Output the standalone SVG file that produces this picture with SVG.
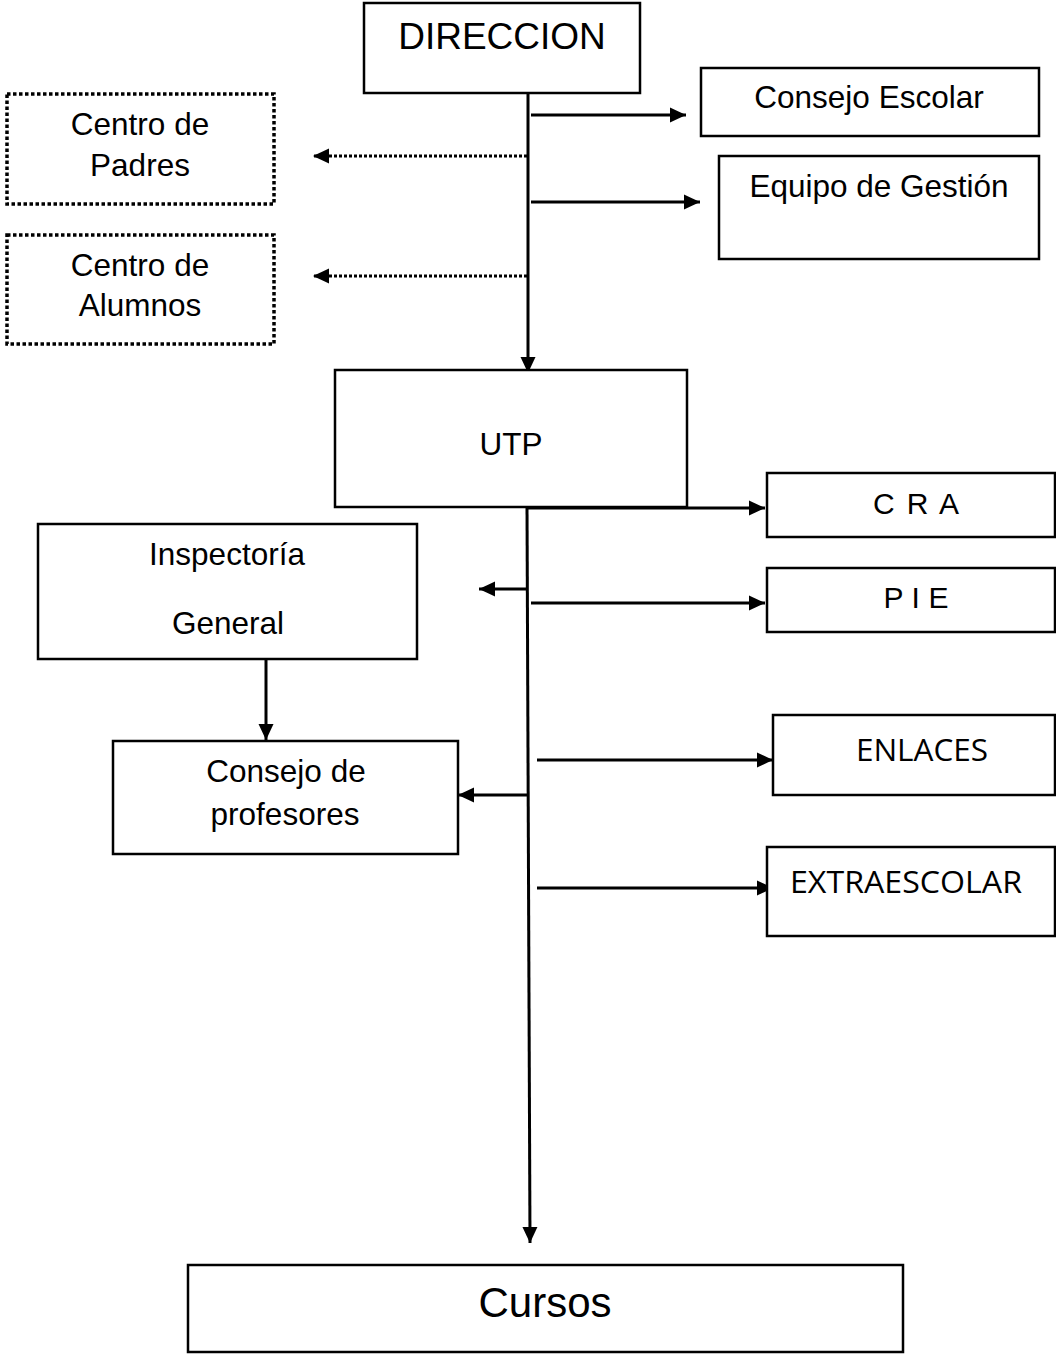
<svg xmlns="http://www.w3.org/2000/svg" width="1056" height="1355" viewBox="0 0 1056 1355">
<style>
.box{fill:#fff;stroke:#000;stroke-width:2.5}
.dbox{fill:#fff;stroke:#000;stroke-width:3.5;stroke-dasharray:3.5 2.5}
.t{font-family:"Liberation Sans",Arial,sans-serif;font-size:31.5px;fill:#000;text-anchor:middle}
.c{font-family:"Open Sans","Liberation Sans",sans-serif;font-size:31.5px;fill:#000}
.ln{fill:none;stroke:#000;stroke-width:3}
.dl{fill:none;stroke:#000;stroke-width:3;stroke-dasharray:3 2}
</style>
<defs>
<marker id="ah" markerUnits="userSpaceOnUse" markerWidth="18" markerHeight="18" refX="16" refY="9" orient="auto">
<path d="M0,1.5 L16,9 L0,16.5 z" fill="#000"/>
</marker>
</defs>
<g id="connectors">
<path class="ln" d="M528,93 L528,373" marker-end="url(#ah)"/>
<path class="ln" d="M531,115 L686,115" marker-end="url(#ah)"/>
<path class="ln" d="M531,202 L700,202" marker-end="url(#ah)"/>
<path class="dl" d="M527,156 L313,156" marker-end="url(#ah)"/>
<path class="dl" d="M527,276 L313,276" marker-end="url(#ah)"/>
<path class="ln" d="M527,507 L530,1243" marker-end="url(#ah)"/>
<path class="ln" d="M527,508 L765,508" marker-end="url(#ah)"/>
<path class="ln" d="M531,603 L765,603" marker-end="url(#ah)"/>
<path class="ln" d="M527,589 L479,589" marker-end="url(#ah)"/>
<path class="ln" d="M528,795 L458,795" marker-end="url(#ah)"/>
<path class="ln" d="M537,760 L773,760" marker-end="url(#ah)"/>
<path class="ln" d="M537,888 L773,888" marker-end="url(#ah)"/>
<path class="ln" d="M266,659 L266,740" marker-end="url(#ah)"/>
</g>
<g id="direccion">
<rect class="box" x="364" y="3" width="276" height="90"/>
<text class="t" x="502" y="49" style="font-size:37px">DIRECCION</text>
</g>
<g id="consejo-escolar">
<rect class="box" x="701" y="68" width="338" height="68"/>
<text class="t" x="869" y="108">Consejo Escolar</text>
</g>
<g id="equipo-gestion">
<rect class="box" x="719" y="156" width="320" height="103"/>
<text class="t" x="879" y="197">Equipo de Gestión</text>
</g>
<g id="centro-padres">
<rect class="dbox" x="7" y="94" width="267" height="110"/>
<text class="t" x="140" y="135">Centro de</text>
<text class="t" x="140" y="176">Padres</text>
</g>
<g id="centro-alumnos">
<rect class="dbox" x="7" y="235" width="267" height="109"/>
<text class="t" x="140" y="276">Centro de</text>
<text class="t" x="140" y="316">Alumnos</text>
</g>
<g id="utp">
<rect class="box" x="335" y="370" width="352" height="137"/>
<text class="t" x="511" y="455">UTP</text>
</g>
<g id="cra">
<rect class="box" x="767" y="473" width="288" height="64"/>
<text class="t" x="916" y="514" style="font-size:30px" textLength="86" lengthAdjust="spacing">C R A</text>
</g>
<g id="pie">
<rect class="box" x="767" y="568" width="288" height="64"/>
<text class="t" x="916" y="608" style="font-size:30px" textLength="65" lengthAdjust="spacing">P I E</text>
</g>
<g id="inspectoria">
<rect class="box" x="38" y="524" width="379" height="135"/>
<text class="t" x="227" y="565">Inspectoría</text>
<text class="t" x="228" y="634">General</text>
</g>
<g id="consejo-profesores">
<rect class="box" x="113" y="741" width="345" height="113"/>
<text class="t" x="286" y="782">Consejo de</text>
<text class="t" x="285" y="825">profesores</text>
</g>
<g id="enlaces">
<rect class="box" x="773" y="715" width="282" height="80"/>
<text class="c" x="922" y="761" text-anchor="middle">ENLACES</text>
</g>
<g id="extraescolar">
<rect class="box" x="767" y="847" width="288" height="89"/>
<text class="c" x="790" y="893" textLength="232" lengthAdjust="spacingAndGlyphs">EXTRAESCOLAR</text>
</g>
<g id="cursos">
<rect class="box" x="188" y="1265" width="715" height="87"/>
<text class="t" x="545" y="1317" style="font-size:42px">Cursos</text>
</g>
</svg>
